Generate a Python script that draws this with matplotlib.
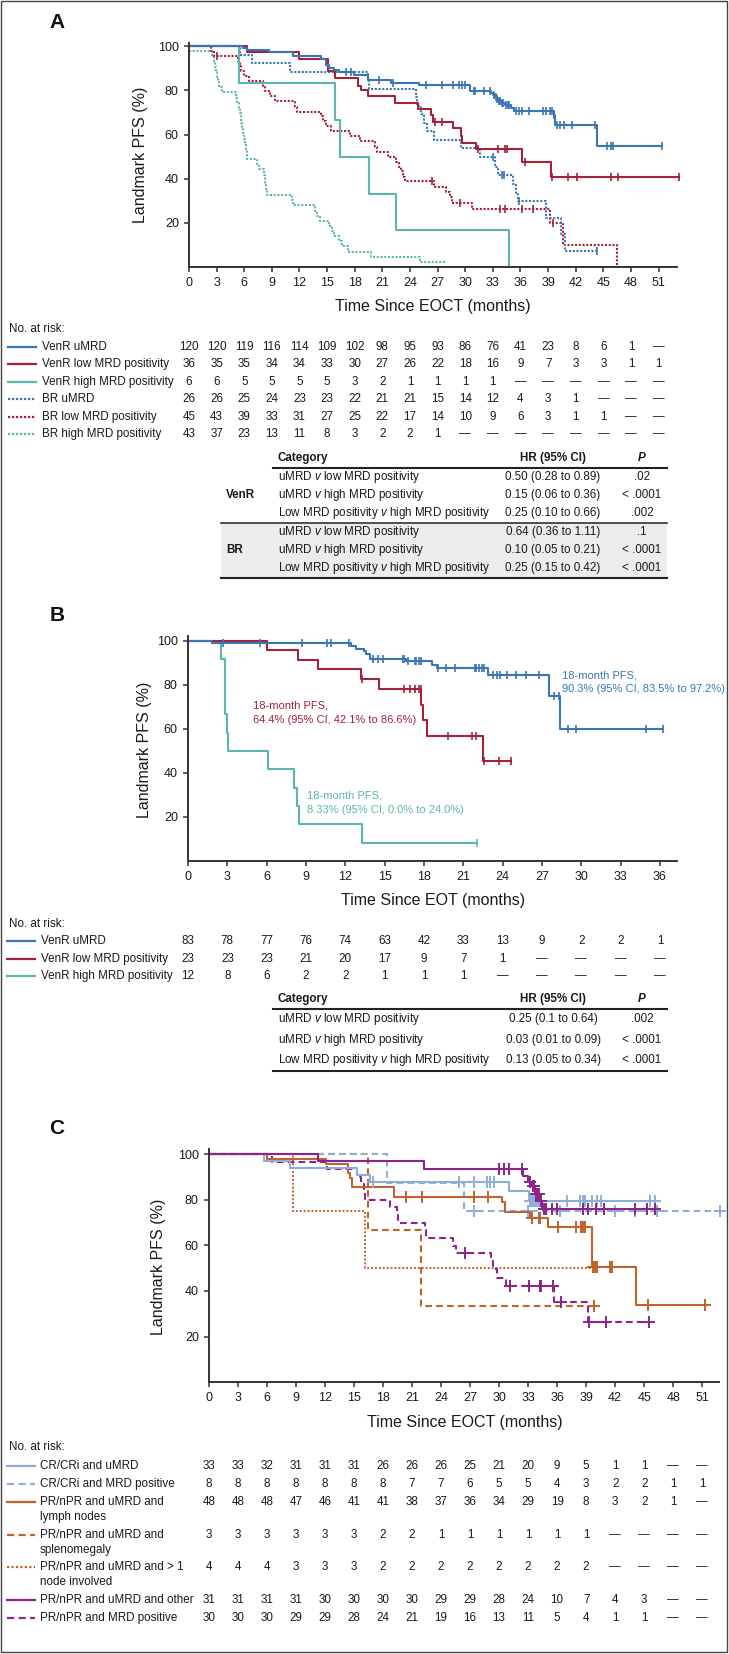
import numpy as np
import matplotlib
matplotlib.use('Agg')
import matplotlib.pyplot as plt
from matplotlib import font_manager
from matplotlib.transforms import blended_transform_factory
from matplotlib.patches import Rectangle
from matplotlib.lines import Line2D

names = {f.name for f in font_manager.fontManager.ttflist}
SANS = 'Liberation Sans' if 'Liberation Sans' in names else 'DejaVu Sans'
NARROW = 'Liberation Sans Narrow' if 'Liberation Sans Narrow' in names else SANS
plt.rcParams['font.family'] = [SANS, 'DejaVu Sans']
plt.rcParams['mathtext.fontset'] = 'custom'
plt.rcParams['mathtext.it'] = SANS + ':italic'
plt.rcParams['mathtext.rm'] = SANS
plt.rcParams['mathtext.bf'] = SANS + ':bold'

# ---------------- data: panel A ----------------
A_xticks = list(range(0, 52, 3))
A_yticks = [20, 40, 60, 80, 100]

A_vu_t = [0, 5.9, 6.3, 8.7, 11.3, 14.3, 14.9, 15.2, 15.7, 16.3, 17.9, 19.4, 21.9, 25.0, 30.5,
          32.8, 33.0, 33.2, 33.4, 33.6, 33.9, 34.3, 35.0, 35.3, 39.6, 39.8, 44.3]
A_vu_s = [100, 99.2, 98.3, 97.5, 95.8, 94.2, 91.7, 90.0, 89.2, 88.3, 86.9, 84.9, 83.5, 82.3, 79.6,
          78.7, 77.8, 76.9, 76.0, 75.1, 74.3, 73.4, 72.2, 70.9, 67.5, 64.3, 54.8]
A_vu_c = [17.1, 17.6, 20.6, 22.2, 25.7, 27.5, 28.7, 29.3, 29.7, 30.0, 30.9, 31.1, 32.0, 32.7, 33.1,
          33.3, 33.5, 33.7, 33.8, 34.0, 34.1, 34.4, 34.6, 34.8, 35.5, 35.8, 36.2, 36.9, 38.5, 38.8,
          39.2, 39.4, 39.7, 40.0, 40.3, 40.7, 41.6, 44.1, 45.4, 45.8, 46.1, 51.4]
A_vu_end = 51.4

A_vl_t = [0, 6.3, 12.0, 15.1, 15.9, 18.4, 18.7, 19.4, 22.4, 24.9, 26.3, 26.5, 28.7, 29.5, 29.7, 31.2, 36.2, 39.3]
A_vl_s = [100, 97.2, 94.4, 89.0, 85.7, 82.0, 80.0, 77.3, 74.5, 71.6, 68.7, 65.8, 62.8, 59.5, 56.3, 53.3, 47.6, 40.7]
A_vl_c = [26.7, 27.5, 31.4, 33.6, 34.3, 34.5, 36.5, 39.4, 41.2, 42.1, 45.8, 46.6, 53.2]
A_vl_end = 53.2

A_vh_t = [0, 5.4, 15.9, 16.4, 19.6, 22.5, 34.8]
A_vh_s = [100, 83.3, 66.7, 50.0, 33.3, 16.7, 0]
A_vh_c = []
A_vh_end = 34.8

A_bu_t = [0, 5.5, 6.8, 11.0, 19.4, 19.6, 24.6, 24.8, 25.2, 25.5, 25.9, 26.6, 29.5, 31.6, 33.2, 33.6,
          35.2, 35.5, 35.7, 38.8, 40.4, 40.8]
A_bu_s = [100, 96.2, 92.3, 88.5, 84.6, 80.8, 76.9, 73.1, 69.2, 65.4, 61.5, 57.7, 53.8, 50.0, 45.5, 41.7,
          37.5, 33.4, 29.7, 22.4, 14.9, 7.2]
A_bu_c = [33.0, 34.0, 34.2, 35.8, 44.3]
A_bu_end = 44.3

A_bl_t = [0, 2.4, 2.7, 5.3, 5.5, 5.7, 6.0, 6.5, 8.0, 8.3, 8.8, 9.3, 11.5, 11.7, 14.3, 14.6, 14.9, 15.4,
          17.5, 18.6, 20.2, 20.4, 21.6, 22.5, 22.8, 23.0, 23.2, 23.5, 26.6, 27.9, 28.4, 28.6, 30.7,
          39.2, 40.6, 46.5]
A_bl_s = [100, 97.8, 95.6, 93.3, 91.1, 88.9, 86.6, 84.4, 82.0, 79.7, 77.4, 75.0, 72.7, 70.4, 68.2, 66.0,
          63.7, 61.4, 59.2, 56.9, 54.6, 52.3, 50.0, 47.8, 45.5, 43.3, 41.0, 38.8, 36.4, 34.0, 31.5, 28.9,
          26.3, 19.8, 9.9, 0]
A_bl_c = [3.0, 26.4, 29.4, 33.8, 34.3, 36.2, 37.4, 39.5]
A_bl_end = 46.5

A_bh_t = [0, 2.5, 2.7, 2.8, 2.9, 3.0, 3.1, 3.3, 3.6, 5.1, 5.2, 5.4, 5.5, 5.6, 5.7, 5.8, 5.9, 6.0, 6.1,
          6.2, 6.25, 6.3, 7.4, 7.6, 8.1, 8.2, 8.3, 8.4, 8.5, 11.2, 11.3, 13.7, 13.9, 14.2, 15.2, 15.5,
          15.8, 16.3, 16.6, 17.3, 19.8, 25.1]
A_bh_s = [97.7, 95.3, 93.0, 90.7, 88.4, 86.0, 83.7, 81.4, 79.1, 76.7, 74.4, 72.1, 69.8, 67.4, 65.1, 62.8,
          60.5, 58.1, 55.8, 53.5, 51.2, 48.8, 46.5, 44.2, 41.9, 39.5, 37.2, 34.9, 32.6, 30.2, 27.9, 25.6,
          23.3, 20.9, 18.6, 16.3, 14.0, 11.6, 9.3, 7.0, 4.7, 2.3]
A_bh_c = []
A_bh_end = 27.8

A_labels = ['VenR uMRD', 'VenR low MRD positivity', 'VenR high MRD positivity',
            'BR uMRD', 'BR low MRD positivity', 'BR high MRD positivity']
A_risk = [
    ['120', '120', '119', '116', '114', '109', '102', '98', '95', '93', '86', '76', '41', '23', '8', '6', '1', '—'],
    ['36', '35', '35', '34', '34', '33', '30', '27', '26', '22', '18', '16', '9', '7', '3', '3', '1', '1'],
    ['6', '6', '5', '5', '5', '5', '3', '2', '1', '1', '1', '1', '—', '—', '—', '—', '—', '—'],
    ['26', '26', '25', '24', '23', '23', '22', '21', '21', '15', '14', '12', '4', '3', '1', '—', '—', '—'],
    ['45', '43', '39', '33', '31', '27', '25', '22', '17', '14', '10', '9', '6', '3', '1', '1', '—', '—'],
    ['43', '37', '23', '13', '11', '8', '3', '2', '2', '1', '—', '—', '—', '—', '—', '—', '—', '—'],
]
A_hr_groups = ['VenR', 'BR']
A_hr_cats = ['uMRD $\\mathit{v}$ low MRD positivity', 'uMRD $\\mathit{v}$ high MRD positivity',
             'Low MRD positivity $\\mathit{v}$ high MRD positivity',
             'uMRD $\\mathit{v}$ low MRD positivity', 'uMRD $\\mathit{v}$ high MRD positivity',
             'Low MRD positivity $\\mathit{v}$ high MRD positivity']
A_hr_vals = ['0.50 (0.28 to 0.89)', '0.15 (0.06 to 0.36)', '0.25 (0.10 to 0.66)',
             '0.64 (0.36 to 1.11)', '0.10 (0.05 to 0.21)', '0.25 (0.15 to 0.42)']
A_hr_p = ['.02', '< .0001', '.002', '.1', '< .0001', '< .0001']

# ---------------- data: panel B ----------------
B_xticks = list(range(0, 37, 3))
B_yticks = [20, 40, 60, 80, 100]

B_vu_t = [0, 1.8, 12.4, 12.8, 13.4, 13.6, 13.9, 16.6, 18.6, 19.0, 22.9, 27.5, 28.4]
B_vu_s = [100, 98.8, 97.6, 96.4, 95.2, 94.0, 91.8, 90.6, 89.0, 87.8, 84.2, 74.7, 59.8]
B_vu_c = [2.7, 5.5, 8.7, 10.6, 10.9, 12.3, 14.1, 14.5, 14.9, 16.4, 16.5, 16.8, 17.3, 17.4, 17.6, 17.8,
          19.1, 19.7, 20.4, 21.9, 22.0, 22.2, 22.4, 22.6, 23.3, 23.6, 23.8, 24.3, 25.0, 25.8, 26.8,
          27.9, 28.3, 29.0, 29.6, 34.9, 36.2]
B_vu_end = 36.2

B_vl_t = [0, 6.05, 8.4, 9.9, 13.2, 14.6, 17.8, 17.9, 18.2, 22.5]
B_vl_s = [100, 95.7, 91.3, 87.0, 82.6, 78.0, 70.9, 63.8, 56.7, 45.4]
B_vl_c = [13.3, 16.5, 16.9, 17.3, 17.6, 17.75, 19.8, 21.7, 22.0, 22.6, 23.7, 24.6]
B_vl_end = 24.6

B_vh_t = [0, 2.5, 2.8, 3.0, 3.05, 6.1, 8.1, 8.35, 8.5, 13.25]
B_vh_s = [100, 91.7, 66.7, 58.3, 50.0, 41.7, 33.3, 25.0, 16.7, 8.3]
B_vh_c = [22.05]
B_vh_end = 22.05

B_labels = ['VenR uMRD', 'VenR low MRD positivity', 'VenR high MRD positivity']
B_risk = [
    ['83', '78', '77', '76', '74', '63', '42', '33', '13', '9', '2', '2', '1'],
    ['23', '23', '23', '21', '20', '17', '9', '7', '1', '—', '—', '—', '—'],
    ['12', '8', '6', '2', '2', '1', '1', '1', '—', '—', '—', '—', '—'],
]
B_notes = ['18-month PFS,\n90.3% (95% CI, 83.5% to 97.2%)',
           '18-month PFS,\n64.4% (95% CI, 42.1% to 86.6%)',
           '18-month PFS,\n8.33% (95% CI, 0.0% to 24.0%)']
B_hr_cats = ['uMRD $\\mathit{v}$ low MRD positivity', 'uMRD $\\mathit{v}$ high MRD positivity',
             'Low MRD positivity $\\mathit{v}$ high MRD positivity']
B_hr_vals = ['0.25 (0.1 to 0.64)', '0.03 (0.01 to 0.09)', '0.13 (0.05 to 0.34)']
B_hr_p = ['.002', '< .0001', '< .0001']

# ---------------- data: panel C ----------------
C_xticks = list(range(0, 52, 3))
C_yticks = [20, 40, 60, 80, 100]

C_cu_t = [0, 5.7, 8.4, 15.3, 16.7, 31.0, 33.1]
C_cu_s = [100, 97.0, 93.9, 90.9, 87.8, 83.7, 79.4]
C_cu_c = [17.0, 25.9, 27.4, 28.7, 29.1, 29.5, 33.2, 33.4, 33.5, 33.7, 33.9, 34.1, 34.2, 37.0, 38.4,
          38.7, 38.9, 39.6, 40.1, 40.5, 45.6, 46.1]
C_cu_end = 46.1

C_cp_t = [0, 18.4, 26.4]
C_cp_s = [100, 87.5, 75.0]
C_cp_c = [27.4, 33.0, 36.3, 42.0, 44.1, 46.3, 52.8]
C_cp_end = 52.8

C_pl_t = [0, 6.0, 12.1, 14.4, 14.6, 14.8, 19.1, 30.3, 30.6, 33.2, 35.1, 39.6, 44.2]
C_pl_s = [100, 97.9, 95.8, 91.7, 89.5, 85.4, 81.2, 78.8, 74.4, 72.1, 68.1, 50.6, 33.8]
C_pl_c = [20.4, 22.0, 27.4, 28.9, 33.4, 34.1, 34.2, 36.1, 38.0, 38.5, 38.7, 38.9, 39.7, 39.9, 40.1,
          41.5, 41.7, 45.4, 51.3]
C_pl_end = 51.3

C_ps_t = [0, 16.4, 21.9]
C_ps_s = [100, 66.7, 33.3]
C_ps_c = [39.8]
C_ps_end = 40.0

C_pn_t = [0, 8.65, 16.1]
C_pn_s = [100, 75.0, 50.0]
C_pn_c = []
C_pn_end = 39.7

C_po_t = [0, 11.3, 22.2, 32.5, 33.0, 33.4, 33.7, 34.2, 34.4]
C_po_s = [100, 96.8, 93.5, 90.3, 87.8, 86.0, 82.7, 79.5, 75.7]
C_po_c = [30.0, 30.5, 31.0, 32.4, 33.2, 33.5, 33.6, 33.8, 33.9, 34.1, 34.3, 34.6, 34.9, 35.5, 36.0,
          38.7, 39.2, 40.0, 40.8, 44.1, 45.3, 46.1]
C_po_end = 46.3

C_pm_t = [0, 6.5, 12.2, 15.3, 15.7, 16.0, 16.1, 18.7, 19.4, 19.5, 22.3, 22.4, 25.2, 25.5, 29.2, 29.4,
          29.8, 30.7, 35.7, 39.2]
C_pm_s = [100, 96.7, 93.3, 90.0, 86.7, 83.3, 80.0, 76.7, 73.3, 70.0, 66.7, 63.3, 59.9, 56.5, 53.0, 49.5,
          45.9, 42.3, 35.2, 26.4]
C_pm_c = [26.5, 31.1, 33.1, 34.2, 34.3, 35.6, 36.4, 39.3, 41.1, 45.55]
C_pm_end = 45.6

C_labels = ['CR/CRi and uMRD', 'CR/CRi and MRD positive', 'PR/nPR and uMRD and\nlymph nodes',
            'PR/nPR and uMRD and\nsplenomegaly', 'PR/nPR and uMRD and > 1\nnode involved',
            'PR/nPR and uMRD and other', 'PR/nPR and MRD positive']
C_risk = [
    ['33', '33', '32', '31', '31', '31', '26', '26', '26', '25', '21', '20', '9', '5', '1', '1', '—', '—'],
    ['8', '8', '8', '8', '8', '8', '8', '7', '7', '6', '5', '5', '4', '3', '2', '2', '1', '1'],
    ['48', '48', '48', '47', '46', '41', '41', '38', '37', '36', '34', '29', '19', '8', '3', '2', '1', '—'],
    ['3', '3', '3', '3', '3', '3', '2', '2', '1', '1', '1', '1', '1', '1', '—', '—', '—', '—'],
    ['4', '4', '4', '3', '3', '3', '2', '2', '2', '2', '2', '2', '2', '2', '—', '—', '—', '—'],
    ['31', '31', '31', '31', '30', '30', '30', '30', '29', '29', '28', '24', '10', '7', '4', '3', '—', '—'],
    ['30', '30', '30', '29', '29', '28', '24', '21', '19', '16', '13', '11', '5', '4', '1', '1', '—', '—'],
]

# ---------------- styles ----------------
BLUE, RED, TEAL = '#3a76b4', '#a3213b', '#5cb6af'
LBLUE, ORANGE, PURPLE = '#8eaed8', '#c0622c', '#8b2589'
SOLID, DOT, DASH = '-', (0, (1.0, 0.8)), (0, (3.2, 2.0))
TXT = '#1a1a1a'
W, H = 729, 1654

fig = plt.figure(figsize=(W / 100, H / 100), dpi=100)


def fx(x):
    return x / W


def fy(y):
    return 1 - y / H


def make_axes(left, right, bottom, top, xlim, ylim, xticks, yticks):
    ax = fig.add_axes([fx(left), fy(bottom), (right - left) / W, (bottom - top) / H])
    ax.set_xlim(*xlim)
    ax.set_ylim(*ylim)
    for s in ['top', 'right']:
        ax.spines[s].set_visible(False)
    for s in ['left', 'bottom']:
        ax.spines[s].set_linewidth(1.4)
        ax.spines[s].set_color('#333333')
    ax.set_xticks(xticks)
    ax.set_yticks(yticks)
    ax.tick_params(direction='out', length=3.8, width=1.1, color='#333333', labelsize=9,
                   pad=3.5, labelcolor=TXT)
    ax.patch.set_alpha(0)
    return ax


def km(ax, t, s, end, cens, color, ls, marker='|', ms=6.0, mew=1.2, lw=1.5):
    tt = list(t) + [end]
    ss = list(s) + [s[-1]]
    ax.step(tt, ss, where='post', color=color, ls=ls, lw=lw, clip_on=False)
    if cens:
        ta = np.asarray(t)
        cy = [s[int(np.searchsorted(ta, c, side='right')) - 1] for c in cens]
        ax.plot(cens, cy, ls='none', marker=marker, ms=ms, mew=mew, color=color, clip_on=False)


def risk_table(ax, ticks, rows, labels, styles, y_head, ys, lx0, lx1, tx, fs=8.4, second=14.7):
    trans = blended_transform_factory(ax.transData, fig.transFigure)
    fig.text(fx(9), fy(y_head), 'No. at risk:', fontsize=fs, va='center', ha='left', color=TXT)
    for lab, row, st, y in zip(labels, rows, styles, ys):
        fig.add_artist(Line2D([fx(lx0), fx(lx1)], [fy(y), fy(y)], transform=fig.transFigure,
                              color=st[0], ls=st[1], lw=1.6))
        for k, part in enumerate(lab.split('\n')):
            fig.text(fx(tx), fy(y + k * second), part, fontsize=fs, va='center', ha='left', color=TXT)
        for t, v in zip(ticks, row):
            fig.text(t, fy(y), v, transform=trans, fontsize=fs, va='center', ha='center', color=TXT)


def hr_header(y, line_y, x0=273, x1=667, fs=8.4):
    fig.text(fx(278), fy(y), 'Category', fontsize=fs, fontweight='bold', va='center', ha='left', color=TXT)
    fig.text(fx(553), fy(y), 'HR (95% CI)', fontsize=fs, fontweight='bold', va='center', ha='center', color=TXT)
    fig.text(fx(642), fy(y), 'P', fontsize=fs, fontweight='bold', style='italic', va='center', ha='center', color=TXT)
    fig.add_artist(Line2D([fx(x0), fx(x1)], [fy(line_y)] * 2, transform=fig.transFigure, color='#222222', lw=1.5))


def hr_rows(ys, cats, vals, ps, fs=8.4):
    for y, c, v, p in zip(ys, cats, vals, ps):
        fig.text(fx(278), fy(y), c, fontsize=fs, va='center', ha='left', color=TXT)
        fig.text(fx(553), fy(y), v, fontsize=fs, va='center', ha='center', color=TXT)
        fig.text(fx(642), fy(y), p, fontsize=fs, va='center', ha='center', color=TXT)


title_fs = 13.5 if NARROW != SANS else 11.5

# ================= Panel A =================
fig.text(fx(57), fy(23), 'A', fontsize=15, fontweight='bold', ha='center', va='center', color='#111111')
axA = make_axes(189, 677, 267, 43, (0, 53.0), (0, 101.5), A_xticks, A_yticks)
km(axA, A_bh_t, A_bh_s, A_bh_end, A_bh_c, TEAL, DOT)
km(axA, A_bl_t, A_bl_s, A_bl_end, A_bl_c, RED, DOT)
km(axA, A_bu_t, A_bu_s, A_bu_end, A_bu_c, BLUE, DOT)
km(axA, A_vh_t, A_vh_s, A_vh_end, A_vh_c, TEAL, SOLID)
km(axA, A_vl_t, A_vl_s, A_vl_end, A_vl_c, RED, SOLID)
km(axA, A_vu_t, A_vu_s, A_vu_end, A_vu_c, BLUE, SOLID)
fig.text(fx(140), fy(155), 'Landmark PFS (%)', rotation=90, fontsize=11.5, ha='center', va='center', color=TXT)
fig.text(fx(433), fy(306), 'Time Since EOCT (months)', fontsize=title_fs, family=[NARROW, 'DejaVu Sans'],
         ha='center', va='center', color=TXT)

risk_table(axA, A_xticks, A_risk, A_labels,
           [(BLUE, SOLID), (RED, SOLID), (TEAL, SOLID), (BLUE, DOT), (RED, DOT), (TEAL, DOT)],
           329, [346.7, 364.3, 381.7, 399.3, 417.0, 434.3], 8, 36, 42)

# HR table A
fig.add_artist(Rectangle((fx(221), fy(577.7)), (667 - 221) / W, (577.7 - 522.7) / H,
                         transform=fig.transFigure, color='#ececec', lw=0, zorder=0))
hr_header(457.7, 468.3)
hr_rows([476.7, 495.0, 513.3, 531.7, 550.0, 568.3], A_hr_cats, A_hr_vals, A_hr_p)
fig.add_artist(Line2D([fx(221), fx(667)], [fy(522.7)] * 2, transform=fig.transFigure, color='#333333', lw=1.2))
fig.add_artist(Line2D([fx(221), fx(667)], [fy(577.7)] * 2, transform=fig.transFigure, color='#222222', lw=1.5))
fig.text(fx(226), fy(495.0), A_hr_groups[0], fontsize=8.4, fontweight='bold', va='center', ha='left', color=TXT)
fig.text(fx(226), fy(550.0), A_hr_groups[1], fontsize=8.4, fontweight='bold', va='center', ha='left', color=TXT)

# ================= Panel B =================
fig.text(fx(57), fy(615), 'B', fontsize=15, fontweight='bold', ha='center', va='center', color='#111111')
axB = make_axes(188, 677, 861, 636, (0, 37.3), (0, 102.1), B_xticks, B_yticks)
km(axB, B_vh_t, B_vh_s, B_vh_end, B_vh_c, TEAL, SOLID)
km(axB, B_vl_t, B_vl_s, B_vl_end, B_vl_c, RED, SOLID)
km(axB, B_vu_t, B_vu_s, B_vu_end, B_vu_c, BLUE, SOLID)
fig.text(fx(145), fy(750), 'Landmark PFS (%)', rotation=90, fontsize=11.5, ha='center', va='center', color=TXT)
fig.text(fx(433), fy(901), 'Time Since EOT (months)', fontsize=title_fs, family=[NARROW, 'DejaVu Sans'],
         ha='center', va='center', color=TXT)
for note, col, (nx, ny) in zip(B_notes, [BLUE, RED, TEAL], [(562, 675), (253, 706), (307, 796)]):
    for k, part in enumerate(note.split('\n')):
        fig.text(fx(nx), fy(ny + 14 * k), part, fontsize=8, color=col, ha='left', va='center')

risk_table(axB, B_xticks, B_risk, B_labels, [(BLUE, SOLID), (RED, SOLID), (TEAL, SOLID)],
           924, [941.0, 958.7, 976.3], 7, 35, 41)
hr_header(999, 1008.7)
hr_rows([1019.0, 1039.7, 1060.3], B_hr_cats, B_hr_vals, B_hr_p)
fig.add_artist(Line2D([fx(273), fx(667)], [fy(1070.7)] * 2, transform=fig.transFigure, color='#222222', lw=1.5))

# ================= Panel C =================
fig.text(fx(57), fy(1128), 'C', fontsize=15, fontweight='bold', ha='center', va='center', color='#111111')
axC = make_axes(209, 718.6, 1382.3, 1149, (0, 52.7), (0, 102.2), C_xticks, C_yticks)
cm = dict(marker='+', ms=8, mew=1.4)
km(axC, C_pn_t, C_pn_s, C_pn_end, C_pn_c, ORANGE, (0, (1.0, 1.0)), lw=1.4)
km(axC, C_ps_t, C_ps_s, C_ps_end, C_ps_c, ORANGE, DASH, **cm)
km(axC, C_pm_t, C_pm_s, C_pm_end, C_pm_c, PURPLE, DASH, **cm)
km(axC, C_cp_t, C_cp_s, C_cp_end, C_cp_c, LBLUE, DASH, **cm)
km(axC, C_pl_t, C_pl_s, C_pl_end, C_pl_c, ORANGE, SOLID, **cm)
km(axC, C_cu_t, C_cu_s, C_cu_end, C_cu_c, LBLUE, SOLID, **cm)
km(axC, C_po_t, C_po_s, C_po_end, C_po_c, PURPLE, SOLID, **cm)
fig.text(fx(158), fy(1267), 'Landmark PFS (%)', rotation=90, fontsize=11.5, ha='center', va='center', color=TXT)
fig.text(fx(465), fy(1423), 'Time Since EOCT (months)', fontsize=title_fs, family=[NARROW, 'DejaVu Sans'],
         ha='center', va='center', color=TXT)

risk_table(axC, C_xticks, C_risk, C_labels,
           [(LBLUE, SOLID), (LBLUE, DASH), (ORANGE, SOLID), (ORANGE, DASH), (ORANGE, (0, (1.0, 1.0))),
            (PURPLE, SOLID), (PURPLE, DASH)],
           1447, [1465.7, 1484.0, 1502.0, 1535.0, 1567.0, 1600.0, 1618.3], 7, 35, 40)

# outer frame
fig.add_artist(Rectangle((fx(1), fy(1652)), (727 - 1) / W, (1652 - 1) / H, transform=fig.transFigure,
                         fill=False, ec='#444444', lw=1.0))

fig.savefig('out.png', dpi=100, facecolor='white')
